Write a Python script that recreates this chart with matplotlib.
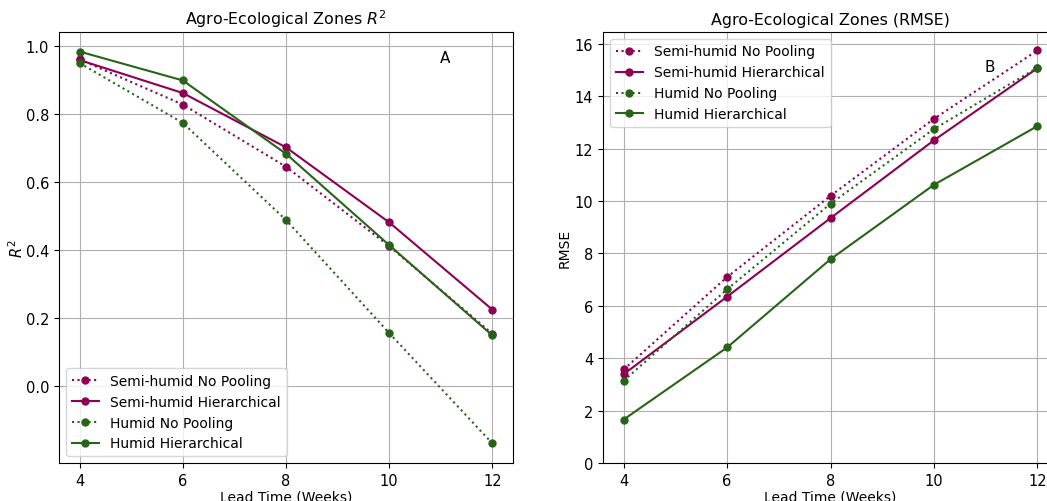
import matplotlib
matplotlib.use("Agg")
import matplotlib.pyplot as plt

lead_weeks = [4, 6, 8, 10, 12]

r2_semi_nopool = [0.961, 0.828, 0.645, 0.411, 0.153]
r2_semi_hier = [0.959, 0.862, 0.702, 0.481, 0.224]
r2_humid_nopool = [0.950, 0.774, 0.488, 0.155, -0.170]
r2_humid_hier = [0.984, 0.899, 0.683, 0.414, 0.148]

rmse_semi_nopool = [3.57, 7.10, 10.20, 13.14, 15.75]
rmse_semi_hier = [3.39, 6.35, 9.35, 12.32, 15.07]
rmse_humid_nopool = [3.14, 6.63, 9.90, 12.75, 15.09]
rmse_humid_hier = [1.66, 4.41, 7.78, 10.62, 12.86]

labels = ["Semi-humid No Pooling", "Semi-humid Hierarchical",
          "Humid No Pooling", "Humid Hierarchical"]
purple = "#8e0152"
green = "#276419"

W, H = 1047, 502
fig = plt.figure(figsize=(W / 100, H / 100), dpi=100)
ax1 = fig.add_axes([59 / W, (H - 464) / H, 454 / W, 431 / H])
ax2 = fig.add_axes([603 / W, (H - 464) / H, 455 / W, 431 / H])

def draw(ax, series):
    styles = [(purple, ":"), (purple, "-"), (green, ":"), (green, "-")]
    for vals, lab, (c, ls) in zip(series, labels, styles):
        ax.plot(lead_weeks, vals, color=c, linestyle=ls, marker="o",
                markersize=5, linewidth=1.5, label=lab)
    ax.set_xticks(lead_weeks)
    ax.grid(True, color="#b0b0b0", linewidth=0.8)
    ax.tick_params(labelsize=10.5)

draw(ax1, [r2_semi_nopool, r2_semi_hier, r2_humid_nopool, r2_humid_hier])
ax1.set_yticks([0.0, 0.2, 0.4, 0.6, 0.8, 1.0])
ax1.set_title("Agro-Ecological Zones $R^2$", fontsize=11.4)
ax1.set_xlabel("Lead Time (Weeks)", fontsize=10, labelpad=1)
ax1.set_ylabel("$R^2$", fontsize=10.5, labelpad=0)
ax1.legend(loc="lower left", fontsize=10)
ax1.text(0.85, 0.94, "A", transform=ax1.transAxes, fontsize=11,
         ha="center", va="center")

draw(ax2, [rmse_semi_nopool, rmse_semi_hier, rmse_humid_nopool, rmse_humid_hier])
ax2.set_ylim(bottom=0)
ax2.set_title("Agro-Ecological Zones (RMSE)", fontsize=11.4)
ax2.set_xlabel("Lead Time (Weeks)", fontsize=10, labelpad=1)
ax2.set_ylabel("RMSE", fontsize=10, labelpad=2)
ax2.legend(loc="upper left", fontsize=10)
ax2.text(0.85, 0.92, "B", transform=ax2.transAxes, fontsize=11,
         ha="center", va="center")

fig.savefig("out.png", dpi=100)
